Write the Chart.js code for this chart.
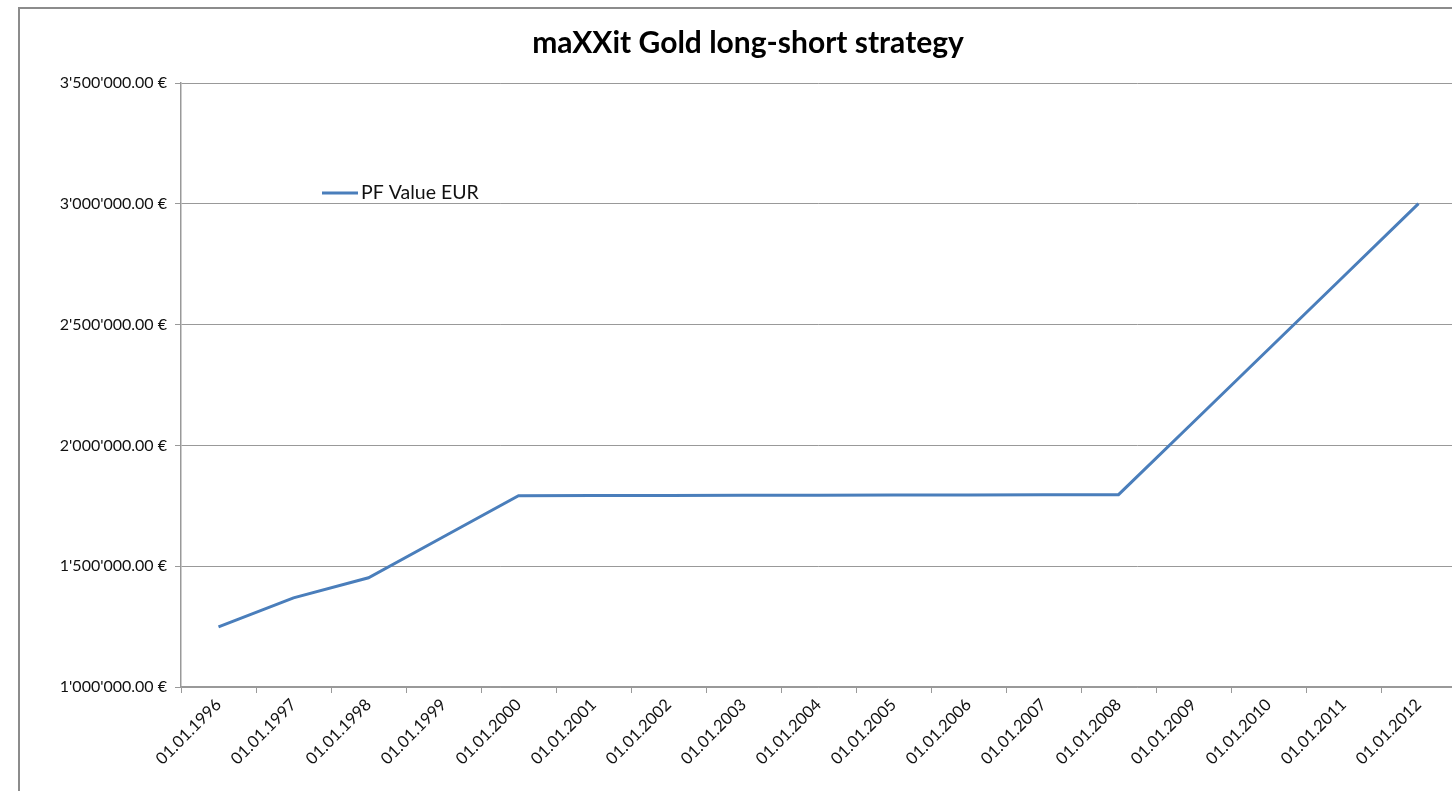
<!DOCTYPE html>
<html>
<head>
<meta charset="utf-8">
<script src="https://cdn.jsdelivr.net/npm/chart.js@4.4.0/dist/chart.umd.min.js"></script>
<style>
  html, body { margin: 0; padding: 0; background: #fff; overflow: hidden; width: 1452px; height: 791px; }
  #frame { position: absolute; left: 18px; top: 7px; width: 1460px; height: 800px;
           border-left: 2px solid #8c8c8c; border-top: 2px solid #8c8c8c; background: #fff; }
  #c { position: absolute; left: 20px; top: 0; }
</style>
</head>
<body>
<div id="frame"><canvas id="c" width="1416" height="800"></canvas></div>
<script>
const categories = ['01.01.1996','01.01.1997','01.01.1998','01.01.1999','01.01.2000','01.01.2001','01.01.2002','01.01.2003','01.01.2004','01.01.2005','01.01.2006','01.01.2007','01.01.2008','01.01.2009','01.01.2010','01.01.2011','01.01.2012'];
const pfValueEUR = [1249000, 1369000, 1452000, 1622000, 1792000, 1792500, 1793000, 1793500, 1794000, 1794500, 1795000, 1795500, 1796000, 2097000, 2398000, 2699000, 3001000];
const seriesLabel = 'PF Value EUR';
const chartTitle = 'maXXit Gold long-short strategy';
const yMin = 1000000, yMax = 3500000, yStep = 500000;

const FONT = 'Lato, "Open Sans", sans-serif';

function fmt(v) {
  const s = Math.round(v).toString().replace(/\B(?=(\d{3})+(?!\d))/g, "'");
  return s + '.00 €';
}

const legendPlugin = {
  id: 'insideLegend',
  afterDraw(chart) {
    const ctx = chart.ctx;
    const ds = chart.data.datasets[0];
    const x0 = 282, y0 = 184;
    ctx.save();
    ctx.strokeStyle = ds.borderColor;
    ctx.lineWidth = 3;
    ctx.beginPath();
    ctx.moveTo(x0, y0);
    ctx.lineTo(x0 + 36, y0);
    ctx.stroke();
    ctx.fillStyle = '#111';
    ctx.font = '19.5px ' + FONT;
    ctx.textBaseline = 'middle';
    ctx.textAlign = 'left';
    ctx.fillText(ds.label, x0 + 39, y0);
    ctx.restore();
  }
};

new Chart(document.getElementById('c'), {
  type: 'line',
  data: {
    labels: categories,
    datasets: [{
      label: seriesLabel,
      data: pfValueEUR,
      borderColor: '#4a7ebb',
      backgroundColor: '#4a7ebb',
      borderWidth: 3,
      pointRadius: 0,
      tension: 0,
      fill: false
    }]
  },
  options: {
    responsive: false,
    animation: false,
    devicePixelRatio: 1,
    layout: { padding: { left: 0, right: 0, top: 0, bottom: 0 } },
    plugins: {
      legend: { display: false },
      tooltip: { enabled: false },
      title: {
        display: true,
        text: chartTitle,
        color: '#000',
        font: { family: FONT, size: 30, weight: 'bold' },
        padding: { top: 16, bottom: 22 }
      }
    },
    scales: {
      x: {
        offset: true,
        grid: { offset: true, drawOnChartArea: false, drawTicks: true, tickLength: 6, color: '#999' },
        border: { color: '#999', width: 1.5 },
        ticks: { color: '#111', font: { family: FONT, size: 16.5 }, minRotation: 45, maxRotation: 45, autoSkip: false, padding: 2 },
        afterFit(scale) { scale.height = 122; }
      },
      y: {
        min: yMin, max: yMax,
        grid: { color: '#999', lineWidth: 1, drawTicks: true, tickLength: 6 },
        border: { color: '#999', width: 1.5 },
        ticks: { stepSize: yStep, color: '#111', font: { family: FONT, size: 16 }, padding: 8, callback: (v) => fmt(v) },
        afterFit(scale) { scale.width = 141; }
      }
    }
  },
  plugins: [legendPlugin]
});
</script>
</body>
</html>
